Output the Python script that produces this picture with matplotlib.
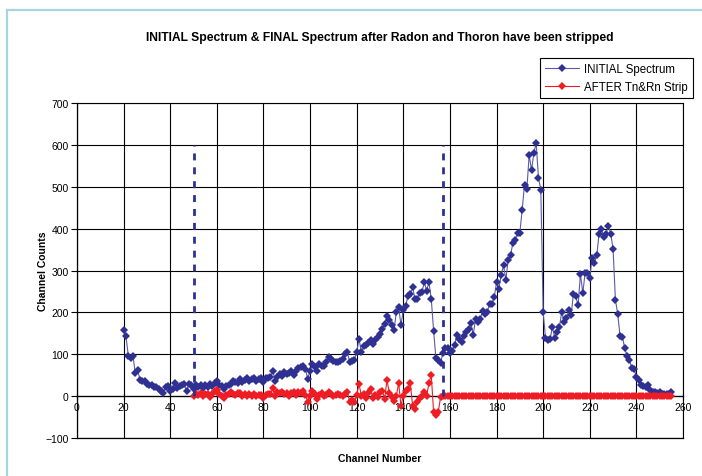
import numpy as np
import matplotlib
matplotlib.use("Agg")
import matplotlib.pyplot as plt
from matplotlib.lines import Line2D

# channel numbers for each series
initial_channels = list(range(20, 256))
after_channels = list(range(50, 256))

# INITIAL spectrum counts, channels 20..255
initial_counts = [
    157, 143, 97, 90, 97, 55, 63, 39, 36, 36,          # 20-29
    29, 26, 27, 21, 21, 18, 13, 7, 21, 24,             # 30-39
    13, 18, 31, 19, 24, 26, 29, 12, 29, 26,            # 40-49
    18, 26, 21, 26, 19, 26, 21, 29, 24, 31,            # 50-59
    36, 26, 24, 18, 25, 27, 29, 37, 33, 32,            # 60-69
    40, 34, 38, 43, 37, 40, 43, 37, 40, 43,            # 70-79
    34, 43, 44, 45, 61, 37, 45, 53, 49, 57,            # 80-89
    53, 55, 59, 50, 61, 67, 70, 73, 65, 41,            # 90-99
    61, 77, 70, 61, 77, 72, 73, 81, 93, 89,            # 100-109
    85, 81, 81, 85, 89, 100, 105, 81, 85, 87,          # 110-119
    105, 137, 105, 119, 122, 127, 133, 125, 133, 141,  # 120-129
    149, 161, 173, 191, 181, 170, 157, 200, 212, 170,  # 130-139
    205, 216, 238, 244, 260, 231, 232, 247, 248, 272,  # 140-149
    252, 272, 232, 156, 90, 87, 80, 103, 116, 116,     # 150-159
    103, 108, 122, 145, 137, 129, 143, 154, 161, 175,  # 160-169
    147, 183, 177, 183, 204, 196, 200, 220, 220, 236,  # 170-179
    272, 256, 290, 312, 278, 326, 336, 366, 372, 390,  # 180-189
    390, 445, 505, 494, 576, 540, 580, 605, 521, 493,  # 190-199
    200, 140, 134, 137, 165, 138, 154, 166, 202, 176,  # 200-209
    186, 206, 194, 244, 238, 217, 292, 246, 294, 294,  # 210-219
    282, 330, 318, 336, 388, 399, 380, 388, 407, 388,  # 220-229
    351, 230, 196, 143, 142, 114, 96, 87, 67, 65,      # 230-239
    46, 38, 27, 25, 22, 27, 14, 11, 10, 8,             # 240-249
    9, 6, 5, 4, 4, 11,                                 # 250-255
]

# counts after Thoron & Radon stripping, channels 50..255
after_counts = [
    1, 6, 3, 8, 1, 4, 6, -1, 4, 12,                    # 50-59
    15, 6, 1, -5, 3, 5, 9, 6, 3, 8,                    # 60-69
    8, 0, 5, 0, 5, 0, 5, 0, 3, 3,                      # 70-79
    -5, 3, 5, 5, 19, 0, 10, 8, 11, 5,                  # 80-89
    8, 0, 8, 10, 3, 10, 8, 12, 3, -13,                 # 90-99
    0, 13, 5, -8, 3, 8, 0, 3, 10, 5,                   # 100-109
    1, 3, 5, 3, 1, 5, 9, -13, -10, -13,                # 110-119
    3, 29, 1, 5, -4, 8, 17, -4, 2, -2,                 # 120-129
    11, 13, -6, 38, 8, -2, -11, 1, 31, -23,            # 130-139
    1, 13, 17, 31, -23, -31, -13, -4, 1, 9,            # 140-149
    1, 31, 50, -38, -45, -38, -2,                      # 150-156
] + [0] * 99                                           # 157-255

# region markers (dashed lines)
cut_channels = [50, 157]
cut_top = 600

blue = "#2e3192"
blue_line = "#5a5aa8"
red = "#ee1c24"

plt.rcParams['font.family'] = ['Liberation Sans', 'DejaVu Sans']

fig = plt.figure(figsize=(7.02, 4.77), dpi=100)
ax = fig.add_axes([77 / 702, 1 - 439 / 477, (683 - 77) / 702, (439 - 104) / 477])

ax.plot(initial_channels, initial_counts, color=blue_line, lw=0.8, marker='D',
        ms=4.0, mew=0, mfc=blue, label='INITIAL Spectrum', zorder=3)
ax.plot(after_channels, after_counts, color=red, lw=0.8, marker='D',
        ms=4.0, mew=0, mfc=red, label='AFTER Tn&Rn Strip', zorder=4)

for c in cut_channels:
    ax.plot([c, c], [0, cut_top], color=blue, lw=2.0, dashes=(2.5, 2.5), zorder=5)

ax.set_xlim(0, 260)
ax.set_ylim(-100, 700)
ax.set_xticks(np.arange(0, 261, 20))
ax.set_yticks(np.arange(-100, 701, 100))
ax.grid(True, color='black', lw=0.8)
ax.set_axisbelow(True)

for s in ['top', 'right']:
    ax.spines[s].set_linewidth(0.8)
ax.spines['bottom'].set_position(('data', 0))
ax.spines['bottom'].set_linewidth(0.9)
ax.spines['left'].set_linewidth(0.9)
ax.axhline(-100, color='black', lw=0.9, clip_on=False, zorder=1)
ax.tick_params(axis='both', labelsize=7.5, direction='out', length=4, width=0.8, pad=2)
ax.tick_params(axis='x', direction='inout', length=5)

ax.set_xlabel('Channel Number', fontsize=7.5, fontweight='bold', labelpad=0)
ax.xaxis.set_label_coords(0.5, -0.045)
ax.set_ylabel('Channel Counts', fontsize=7.5, fontweight='bold')
ax.yaxis.set_label_coords(-0.048, 0.5)

fig.text(380 / 702, 1 - 38 / 477,
         'INITIAL Spectrum & FINAL Spectrum after Radon and Thoron have been stripped',
         ha='center', va='center', fontsize=8.7, fontweight='bold')

leg = fig.legend(loc='upper right', bbox_to_anchor=(693 / 702, 1 - 59 / 477),
                 fontsize=8.3, fancybox=False, framealpha=1, edgecolor='black',
                 borderpad=0.45, handlelength=3.0, handletextpad=0.4,
                 labelspacing=0.5, borderaxespad=0)
leg.get_frame().set_linewidth(0.8)

# light blue frame around the chart
frame_c = '#a8d4e2'
fig.add_artist(Line2D([7 / 702, 7 / 702], [0, 1 - 11 / 477], color=frame_c, lw=1.6))
fig.add_artist(Line2D([7 / 702, 1], [1 - 11 / 477, 1 - 11 / 477], color=frame_c, lw=1.6))

fig.savefig('out.png', dpi=100)
